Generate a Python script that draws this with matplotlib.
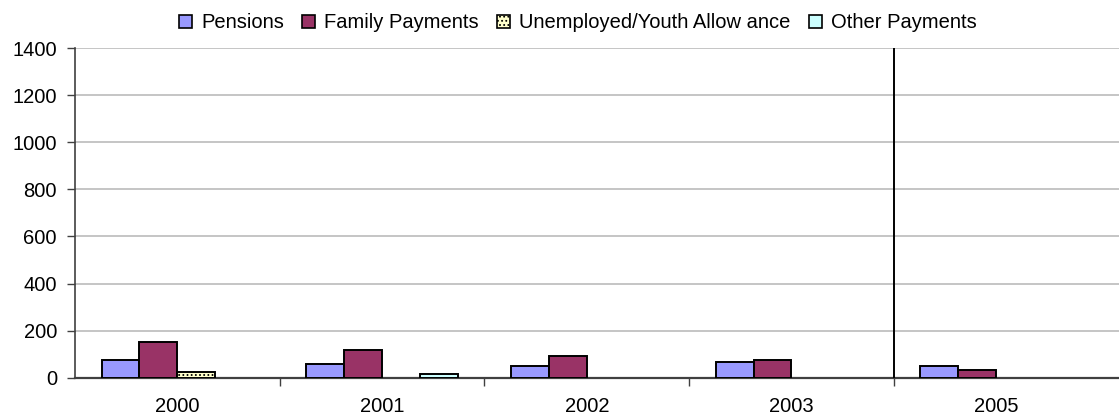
import matplotlib
matplotlib.use("Agg")
import matplotlib.pyplot as plt
import numpy as np

categories = ["2000", "2001", "2002", "2003", "2005"]
series_names = ["Pensions", "Family Payments", "Unemployed/Youth Allow ance", "Other Payments"]
pensions = [74, 59, 49, 67, 49]
family = [151, 117, 91, 74, 32]
unemployed = [25, 0, 0, 0, 0]
other = [0, 16, 0, 0, 0]
yticks = [0, 200, 400, 600, 800, 1000, 1200, 1400]

colors = ["#9999FF", "#993366", "#FFFFCC", "#CCFFFF"]
hatches = [None, None, "....", None]

plt.rcParams["font.family"] = ["Liberation Sans", "DejaVu Sans"]
plt.rcParams["hatch.color"] = "#B0B070"
plt.rcParams["hatch.linewidth"] = 0.8
fig = plt.figure(figsize=(11.19, 4.18), dpi=100)
W, H = 1119, 418
left, right, top, bottom = 75, 1119, 48, 377.7
ax = fig.add_axes([left / W, 1 - bottom / H, (right - left) / W, (bottom - top) / H])

x = np.arange(len(categories))
bw = 0.185
all_series = [pensions, family, unemployed, other]
handles = []
for i, (vals, c, h) in enumerate(zip(all_series, colors, hatches)):
    pos = x + (i - 1.5) * bw
    vals = np.array(vals, dtype=float)
    mask = vals > 0
    ax.bar(pos[mask], vals[mask], width=bw, color=c, edgecolor="black",
           linewidth=1.4, hatch=h, zorder=3)
    handles.append(plt.Rectangle((0, 0), 1, 1, facecolor=c, edgecolor="black",
                                 linewidth=1.2, hatch=h))

ax.set_ylim(0, 1400)
ax.set_xlim(-0.5, 4.6)
ax.set_yticks(yticks)
ax.set_yticklabels([str(v) for v in yticks], fontsize=14.5)
ax.yaxis.grid(True, color="#C0C0C0", linewidth=1.3, zorder=0)
ax.set_axisbelow(True)

ax.set_xticks(x)
ax.set_xticklabels(categories, fontsize=14.5)
ax.set_xticks(np.arange(len(categories) - 1) + 0.5, minor=True)
ax.tick_params(axis="x", which="major", length=0, pad=14)
ax.tick_params(axis="x", which="minor", length=6, width=1, color="#404040", direction="out")
ax.tick_params(axis="y", length=6, width=1, color="#404040", pad=7)

for s in ["top", "right"]:
    ax.spines[s].set_visible(False)
ax.spines["left"].set_color("#404040")
ax.spines["bottom"].set_color("#404040")
ax.spines["left"].set_linewidth(1.2)
ax.spines["bottom"].set_linewidth(1.6)

# separator line between 2003 and 2005
ax.axvline(3.5, color="black", linewidth=1.4, zorder=4)

fig.legend(handles, series_names, loc="center", bbox_to_anchor=(578 / W, 1 - 23 / H),
           ncol=4, frameon=False, fontsize=14.5, handlelength=0.65, handleheight=0.65,
           handletextpad=0.45, columnspacing=0.9, borderaxespad=0)

fig.savefig("out.png", dpi=100)
